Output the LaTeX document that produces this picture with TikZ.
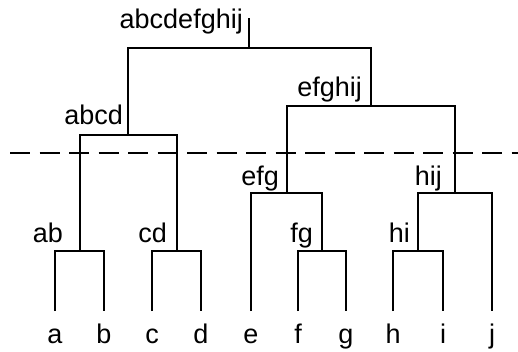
\documentclass[tikz,border=0pt]{standalone}
\usepackage{fontspec}
\setmainfont{Liberation Sans}
\begin{document}
\begin{tikzpicture}[x=1pt,y=-1pt,
  link/.style={draw, line width=2pt},
  cut/.style={draw, line width=2pt, dash pattern=on 20pt off 9.5pt},
  lbl/.style={inner sep=0pt, anchor=base east, font=\fontsize{27}{32}\selectfont},
  leaf/.style={inner sep=0pt, anchor=base, font=\fontsize{27}{32}\selectfont}]
\useasboundingbox (0,0) rectangle (518,351);
% leaves (top of leaf lines)
\coordinate (la) at (55,311);
\coordinate (lb) at (104,311);
\coordinate (lc) at (152,311);
\coordinate (ld) at (201,311);
\coordinate (le) at (251,311);
\coordinate (lf) at (298,311);
\coordinate (lg) at (346,311);
\coordinate (lh) at (393,311);
\coordinate (li) at (443,311);
\coordinate (lj) at (492,311);
% cluster joins
\coordinate (ab) at (79.5,251);
\coordinate (cd) at (176.5,251);
\coordinate (fg) at (322,251);
\coordinate (hi) at (418,251);
\coordinate (abcd) at (128,135);
\coordinate (efg) at (286.5,193);
\coordinate (hij) at (455,193);
\coordinate (efghij) at (370.75,106);
\coordinate (root) at (249.4,48);
\coordinate (roottop) at (249.4,18);
% dendrogram links
\draw[link] (la) |- (ab) -| (lb);
\draw[link] (lc) |- (cd) -| (ld);
\draw[link] (lf) |- (fg) -| (lg);
\draw[link] (lh) |- (hi) -| (li);
\draw[link] (ab) |- (abcd) -| (cd);
\draw[link] (le) |- (efg) -| (fg);
\draw[link] (hi) |- (hij) -| (lj);
\draw[link] (efg) |- (efghij) -| (hij);
\draw[link] (abcd) |- (root) -| (efghij);
\draw[link] (root) -- (roottop);
% cut line
\coordinate (cutL) at (10,152.5);
\coordinate (cutR) at (518,152.5);
\draw[cut] (cutL) -- (cutR);
% cluster labels
\node[lbl] (tabcdefghij) at (243,28) {abcdefghij};
\node[lbl] (tabcd) at (123,124) {abcd};
\node[lbl] (tefghij) at (362,96) {efghij};
\node[lbl] (tefg) at (279,185) {efg};
\node[lbl] (thij) at (442,185) {hij};
\node[lbl] (tab) at (63,242) {ab};
\node[lbl] (tcd) at (167,242) {cd};
\node[lbl] (tfg) at (313,242) {fg};
\node[lbl] (thi) at (410,242) {hi};
% leaf labels
\node[leaf] (ta) at (55,343) {a};
\node[leaf] (tb) at (104,343) {b};
\node[leaf] (tc) at (152,343) {c};
\node[leaf] (td) at (201,343) {d};
\node[leaf] (te) at (251,343) {e};
\node[leaf] (tf) at (298,343) {f};
\node[leaf] (tg) at (346,343) {g};
\node[leaf] (th) at (393,343) {h};
\node[leaf] (ti) at (443,343) {i};
\node[leaf] (tj) at (492,343) {j};
\end{tikzpicture}
\end{document}
